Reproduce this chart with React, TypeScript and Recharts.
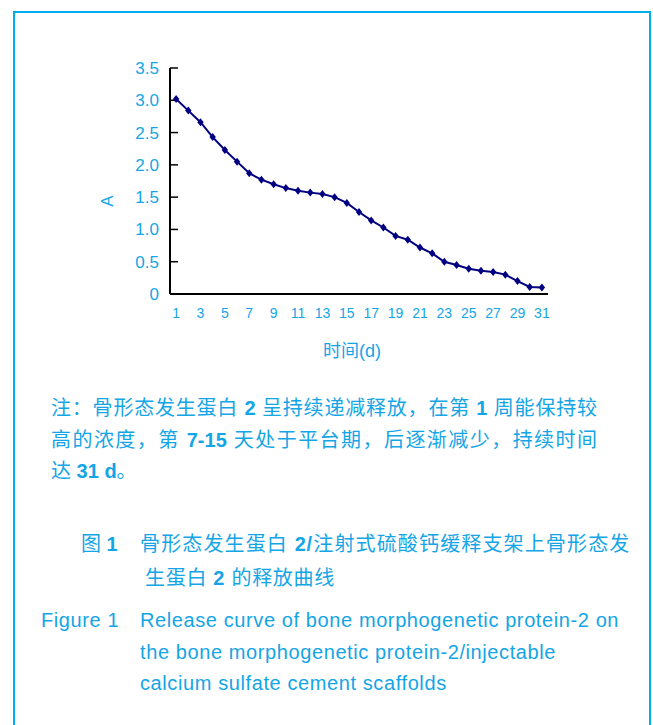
import { LineChart, Line, XAxis, YAxis, Label } from "recharts";

const days = [
  1, 2, 3, 4, 5, 6, 7, 8, 9, 10, 11, 12, 13, 14, 15, 16, 17, 18, 19, 20, 21, 22,
  23, 24, 25, 26, 27, 28, 29, 30, 31,
];
const absorbance = [
  3.02, 2.84, 2.66, 2.43, 2.23, 2.05, 1.87, 1.77, 1.7, 1.64, 1.6, 1.57, 1.55,
  1.5, 1.41, 1.27, 1.14, 1.03, 0.9, 0.84, 0.72, 0.63, 0.5, 0.45, 0.39, 0.36,
  0.34, 0.3, 0.2, 0.11, 0.1,
];
const dayLabels = [1, 3, 5, 7, 9, 11, 13, 15, 17, 19, 21, 23, 25, 27, 29, 31];
const yTicks = [0, 0.5, 1, 1.5, 2, 2.5, 3, 3.5];

const noteLines = [
  "注：骨形态发生蛋白 2 呈持续递减释放，在第 1 周能保持较",
  "高的浓度，第 7-15 天处于平台期，后逐渐减少，持续时间",
  "达 31 d。",
];
const titleCn = ["骨形态发生蛋白 2/注射式硫酸钙缓释支架上骨形态发", "生蛋白 2 的释放曲线"];
const titleEn = [
  "Release curve of bone morphogenetic protein-2 on",
  "the bone morphogenetic protein-2/injectable",
  "calcium sulfate cement scaffolds",
];

const BLUE = "#14a5e6";
const NAVY = "#000080";

// tick marks sit between the days, like the original
const dayEdges = days.map((d) => d - 0.5).concat(days[days.length - 1] + 0.5);

const chartData = days.map((d, i) => ({ day: d, a: absorbance[i] }));

const Diamond = (props: any) => {
  const { cx, cy, index } = props;
  if (cx == null || cy == null) return <g key={index} />;
  return (
    <polygon
      key={index}
      points={`${cx},${cy - 4} ${cx + 3.2},${cy} ${cx},${cy + 4} ${cx - 3.2},${cy}`}
      fill={NAVY}
    />
  );
};

// latin runs in the chinese lines are set in bold
const mixed = (t: string) =>
  t.split(/([0-9][0-9\-\/]*|\bd\b)/).map((part, i) =>
    i % 2 ? <b key={i}>{part}</b> : <span key={i}>{part}</span>
  );

const textBase = {
  position: "absolute" as const,
  color: BLUE,
  whiteSpace: "nowrap" as const,
  lineHeight: "31px",
};

export default function App() {
  return (
    <div
      style={{
        position: "absolute",
        left: 0,
        top: 0,
        width: 653,
        height: 725,
        background: "#fff",
        overflow: "hidden",
        fontFamily: '"Liberation Sans", Arial, "Noto Sans CJK SC", sans-serif',
      }}
    >
      <div
        style={{
          position: "absolute",
          left: 13,
          top: 11,
          width: 634,
          height: 730,
          border: "2px solid #00aeef",
          borderBottom: "none",
        }}
      />
      <div style={{ position: "absolute", left: 0, top: 0 }}>
        <LineChart
          width={653}
          height={370}
          data={chartData}
          margin={{ top: 68, right: 105, bottom: 45, left: 110 }}
        >
          <XAxis
            xAxisId={1}
            type="number"
            dataKey="day"
            domain={[0.5, 31.5]}
            allowDataOverflow
            ticks={dayEdges}
            interval={0}
            tick={false}
            tickSize={-5}
            height={1}
            axisLine={{ stroke: "#000", strokeWidth: 2 }}
            tickLine={{ stroke: "#000", strokeWidth: 1.5 }}
          />
          <XAxis
            xAxisId={2}
            type="number"
            dataKey="day"
            domain={[0.5, 31.5]}
            allowDataOverflow
            ticks={dayLabels}
            interval={0}
            axisLine={false}
            tickLine={false}
            tickSize={0}
            tickMargin={13}
            height={30}
            tick={{ fill: BLUE, fontSize: 14 }}
          >
            <Label
              value="时间(d)"
              position="bottom"
              offset={19}
              dx={-7}
              fill={BLUE}
              fontSize={18}
            />
          </XAxis>
          <YAxis
            type="number"
            domain={[0, 3.5]}
            ticks={yTicks}
            interval={0}
            width={60}
            tickSize={-8}
            tickMargin={19}
            tickFormatter={(v: number) => (v === 0 ? "0" : v.toFixed(1))}
            tick={{ fill: BLUE, fontSize: 17 }}
            axisLine={{ stroke: "#000", strokeWidth: 2 }}
            tickLine={{ stroke: "#000", strokeWidth: 1.5 }}
          >
            <Label
              value="A"
              position="center"
              angle={-90}
              dx={-33}
              dy={20}
              fill={BLUE}
              fontSize={17}
            />
          </YAxis>
          <Line
            xAxisId={2}
            type="linear"
            dataKey="a"
            stroke={NAVY}
            strokeWidth={2}
            dot={Diamond}
            activeDot={false}
            isAnimationActive={false}
          />
        </LineChart>
      </div>

      {noteLines.map((t, i) => (
        <div
          key={t}
          style={{
            ...textBase,
            left: 51,
            top: 393 + i * 31.5,
            width: 546,
            fontSize: 20,
            textAlign: "left",
            textAlignLast: i < 2 ? "justify" : "auto",
          }}
        >
          {mixed(t)}
        </div>
      ))}

      <div style={{ ...textBase, left: 81, top: 529, fontSize: 20 }}>
        图 <b>1</b>
      </div>
      {titleCn.map((t, i) => (
        <div
          key={t}
          style={{
            ...textBase,
            left: i === 0 ? 140 : 145,
            top: 529 + i * 34,
            width: 490,
            fontSize: 20,
            letterSpacing: 0.7,
            textAlignLast: i === 0 ? "justify" : "auto",
          }}
        >
          {mixed(t)}
        </div>
      ))}

      <div style={{ ...textBase, left: 41, top: 605, fontSize: 20, letterSpacing: 0.6 }}>
        Figure 1
      </div>
      {titleEn.map((t, i) => (
        <div
          key={t}
          style={{
            ...textBase,
            left: 140,
            top: 605 + i * 31.5,
            fontSize: 20,
            letterSpacing: 0.6,
          }}
        >
          {t}
        </div>
      ))}
    </div>
  );
}
